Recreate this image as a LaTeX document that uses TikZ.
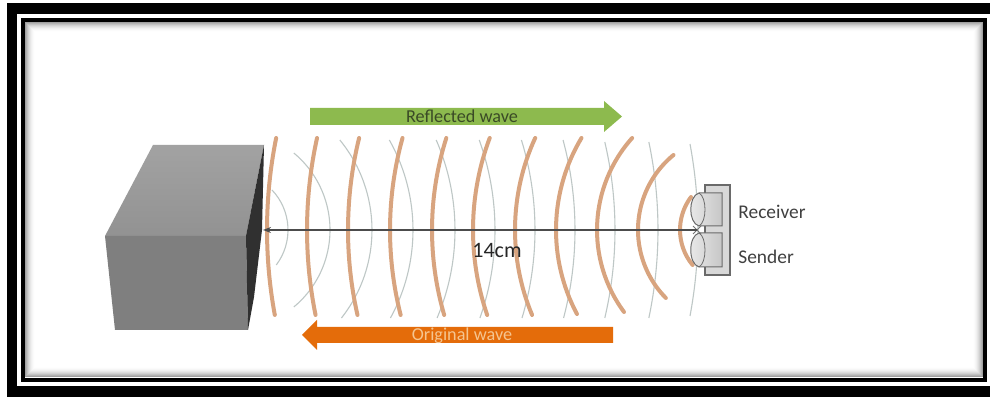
\documentclass[tikz,border=0pt]{standalone}
\usepackage{fontspec}
\setmainfont{Carlito}
\usetikzlibrary{arrows.meta}

\definecolor{wavebrown}{HTML}{D8A47F}
\definecolor{echogray}{HTML}{BEC7C6}
\definecolor{arrowgreen}{HTML}{8DBA4E}
\definecolor{arroworange}{HTML}{E46C0A}
\definecolor{greentext}{HTML}{3A4A26}
\definecolor{orangetext}{HTML}{F5C590}
\definecolor{labeltext}{HTML}{404040}
\definecolor{cubetop}{HTML}{929292}
\definecolor{cubefront}{HTML}{7F7F7F}
\definecolor{cubeside}{HTML}{303030}
\definecolor{sensorfill}{HTML}{D8D8D8}
\definecolor{sensorline}{HTML}{6A6A6A}

\tikzset{
  wave/.style={wavebrown, line width=2pt, line cap=round},
  echo/.style={echogray, line width=0.55pt},
  axisline/.style={draw=black!70, line width=0.7pt},
  labelstyle/.style={font=\fontsize{9.7}{11}\selectfont, text=labeltext, inner sep=0pt, anchor=west},
  arrowtext/.style={font=\fontsize{9.1}{11}\selectfont, inner sep=0pt},
  cylinder/.style={draw=sensorline, line width=0.5pt, left color=white!92!black, right color=black!22},
}

\begin{document}
\begin{tikzpicture}[x=0.5pt,y=-0.5pt]
\useasboundingbox (0,0) rectangle (990,399);
\fill[white] (0,0) rectangle (990,399);

% double frame: thick outer band, thin inner line with a soft inner shadow
\fill[black] (7,3) rectangle (990,14);
\fill[black] (7,3) rectangle (17,397);
\fill[black] (7,386) rectangle (990,397);
\foreach \i [evaluate=\i as \op using {0.45*(1-\i/11)^2}] in {1,...,10}
  \draw[black, draw opacity=\op, line width=0.5pt] (24.5+\i,22+\i) rectangle (983.5-\i,378-\i);
\draw[black, line width=2pt] (23,20.5) rectangle (985,380);

% reflected echoes (thin arcs opening towards the sensor)
\foreach \ax/\up/\dn in {288/40/35, 330/77/77, 372/90/88, 413/90/88, 455/90/88, 495/90/88,
                         535/90/88, 575/90/88, 615/88/88, 658/88/88, 698/86/86} {
  \pgfmathsetmacro\r{\ax-230}
  \pgfmathsetmacro\sa{-asin(\up/\r)}
  \pgfmathsetmacro\ea{asin(\dn/\r)}
  \draw[echo] ([shift={(\sa:\r)}]230,230) arc[start angle=\sa, end angle=\ea, radius=\r];
}

% emitted wave fronts centred on the sender
\foreach \ax/\up/\dn in {267/92/85, 307/92/85, 348/92/85, 390/92/85, 432/92/85, 473/92/85,
                         515/92/85, 556/92/84, 597/92/82, 638/75/68, 680/33/35} {
  \pgfmathsetmacro\r{735-\ax}
  \pgfmathsetmacro\sa{180+asin(\up/\r)}
  \pgfmathsetmacro\ea{180-asin(\dn/\r)}
  \draw[wave] ([shift={(\sa:\r)}]735,230) arc[start angle=\sa, end angle=\ea, radius=\r];
}

% obstacle block
\shade[top color=cubetop!85!white, bottom color=cubetop] (153,145) -- (264,145) -- (246,236) -- (105,236) -- cycle;
\fill[cubefront] (105,236) -- (246,236) -- (248,330) -- (115,330) -- cycle;
\fill[cubeside] (246,236) -- (264,145) -- (262,230) -- (254,297) -- (248,330) -- cycle;
\coordinate (face) at (263,230);

% ultrasonic sensor: mounting plate and two transducers
\filldraw[fill=sensorfill, draw=sensorline, line width=0.6pt] (705,185) rectangle (730,275);
\path[cylinder] (722,193) -- (699,193) .. controls (688,196) and (688,223) .. (699,226) -- (722,226) -- cycle;
\draw[sensorline, line width=0.4pt] (699,193) .. controls (707,197) and (707,222) .. (699,226);
\path[cylinder] (722,233) -- (699,233) .. controls (688,236) and (688,264) .. (699,267) -- (722,267) -- cycle;
\draw[sensorline, line width=0.4pt] (699,233) .. controls (707,237) and (707,263) .. (699,267);
\coordinate (sensor) at (697,230);
\draw[black!55, line width=0.5pt] (693,226) -- (701,234) (693,234) -- (701,226);

% distance between sensor and obstacle
\draw[axisline, {Stealth[length=4pt,width=3pt]}-] (face) -- (sensor);
\node[font=\fontsize{11}{13}\selectfont, text=black!85, inner sep=0pt] (dist) at (497,251) {14cm};

\node[labelstyle] (rx) at (738,212) {Receiver};
\node[labelstyle] (tx) at (738,257) {Sender};

% direction arrows
\fill[arrowgreen] (310,108) -- (604,108) -- (604,101) -- (622,116.5) -- (604,132) -- (604,125) -- (310,125) -- cycle;
\node[arrowtext, text=greentext] (refl) at (462,116.5) {Reflected wave};
\fill[arroworange] (613,327) -- (317,327) -- (317,320) -- (302,335) -- (317,350) -- (317,343) -- (613,343) -- cycle;
\node[arrowtext, text=orangetext] (orig) at (462,335.5) {Original wave};
\end{tikzpicture}
\end{document}
